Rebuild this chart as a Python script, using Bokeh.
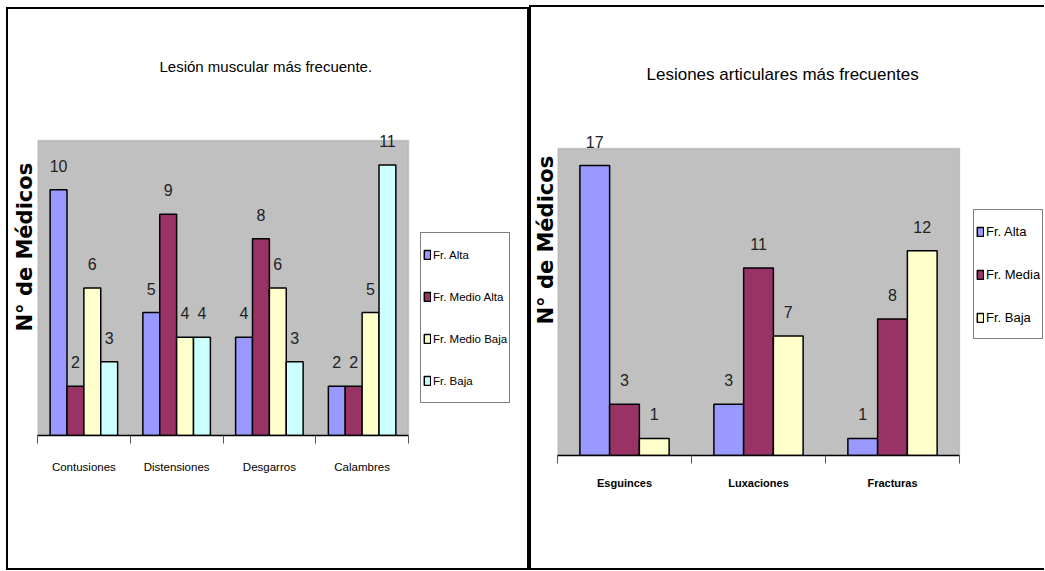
from bokeh.plotting import figure
from bokeh.models import (Range1d, FixedTicker, Legend, LegendItem, LabelSet,
                          ColumnDataSource, Title, BoxAnnotation)
from bokeh.core.properties import value
from bokeh.layouts import row, column
from bokeh.embed import file_html
from bokeh.resources import INLINE

# ---- muscular injuries ----
musc_cats = ["Contusiones", "Distensiones", "Desgarros", "Calambres"]
musc_names = ["Fr. Alta", "Fr. Medio Alta", "Fr. Medio Baja", "Fr. Baja"]
musc_alta = [10, 5, 4, 2]
musc_medio_alta = [2, 9, 8, 2]
musc_medio_baja = [6, 4, 6, 5]
musc_baja = [3, 4, 3, 11]

# ---- joint injuries ----
art_cats = ["Esguinces", "Luxaciones", "Fracturas"]
art_names = ["Fr. Alta", "Fr. Media", "Fr. Baja"]
art_alta = [17, 3, 1]
art_media = [3, 11, 8]
art_baja = [1, 7, 12]

C_ALTA = "#9999FF"
C_MALTA = "#993366"
C_MBAJA = "#FFFFCC"
C_BAJA = "#CCFFFF"

SANS = "Liberation Sans"
YTITLE = "N° de Médicos"
HEADROOM = 40  # px of frame kept above the grey area for value labels


def bar_chart(title, cats, names, series, colors, y_max, bar_w, *, width, height,
              border_left, border_top, border_bottom, plot_px,
              title_size, title_offset, title_gap, ytitle_offset, ytitle_standoff,
              legend_loc, legend_row_h, legend_spacing, legend_size,
              tick_style, tick_size, tick_standoff):
    ncat = len(cats)
    # the frame runs to the right edge so the legend can sit beside the bars,
    # and a little above the top so the tallest value label is not clipped;
    # the grey plot area covers only the category slots up to y_max
    frame_w = width - border_left
    x_end = ncat * frame_w / plot_px
    plot_h = height - border_top - border_bottom
    y_end = y_max * (plot_h + HEADROOM) / plot_h
    p = figure(width=width, height=height, output_backend="svg", toolbar_location=None,
               x_range=Range1d(0, x_end), y_range=Range1d(0, y_end),
               y_axis_location=None,
               min_border_left=border_left, min_border_right=0,
               min_border_top=border_top - HEADROOM, min_border_bottom=border_bottom)
    p.background_fill_color = "white"
    p.border_fill_color = "white"
    p.outline_line_color = None
    p.xgrid.visible = False
    p.ygrid.visible = False

    p.add_layout(BoxAnnotation(left=0, right=ncat, bottom=0, top=y_max,
                               fill_color="#C0C0C0", fill_alpha=1,
                               line_color="#808080", line_width=1.5,
                               level="underlay"))

    n = len(names)
    items = []
    for k, (name, vals, col) in enumerate(zip(names, series, colors)):
        off = (k - (n - 1) / 2) * bar_w
        src = ColumnDataSource(dict(
            x=[i + 0.5 + off for i in range(ncat)],
            top=vals,
            label=[str(v) for v in vals],
        ))
        r = p.vbar(x="x", top="top", bottom=0, width=bar_w, source=src,
                   fill_color=col, line_color="black", line_width=1.5)
        items.append(LegendItem(label=name, renderers=[r]))
        p.add_layout(LabelSet(x="x", y="top", text="label", source=src,
                              text_align="center", text_baseline="alphabetic",
                              y_offset=18, text_font=value(SANS),
                              text_font_size=value("16px"),
                              text_color=value("#222222")))

    # category labels centred in each slot, tick marks on the slot boundaries
    xa = p.xaxis[0]
    xa.bounds = (0, ncat)
    xa.ticker = FixedTicker(ticks=[i + 0.5 for i in range(ncat)],
                            minor_ticks=list(range(ncat + 1)))
    xa.major_label_overrides = {i + 0.5: c for i, c in enumerate(cats)}
    xa.major_tick_out = 0
    xa.major_tick_in = 0
    xa.minor_tick_out = 8
    xa.minor_tick_in = 0
    xa.minor_tick_line_color = "#555555"
    xa.axis_line_color = "black"
    xa.axis_line_width = 1.5
    xa.major_label_text_font = SANS
    xa.major_label_text_font_size = tick_size
    xa.major_label_text_font_style = tick_style
    xa.major_label_text_color = "black"
    xa.major_label_standoff = tick_standoff

    # empty spacer next to the frame, chart title above it
    p.add_layout(Title(text=" ", standoff=title_gap, text_font_size="1px"), "above")
    p.add_layout(Title(text=title, align="left", offset=title_offset,
                       vertical_align="bottom", standoff=0, text_font=SANS,
                       text_font_style="normal", text_font_size=title_size,
                       text_color="black"), "above")
    p.add_layout(Title(text=YTITLE, align="left", offset=ytitle_offset,
                       standoff=ytitle_standoff,
                       text_font="DejaVu Sans", text_font_style="bold",
                       text_font_size="21px", text_color="black"), "left")

    legend = Legend(items=items, location=legend_loc, padding=2, margin=0,
                    spacing=legend_spacing, glyph_width=8, glyph_height=11,
                    label_height=legend_row_h, label_standoff=2,
                    label_text_font=SANS, label_text_font_size=legend_size,
                    label_text_color="black",
                    border_line_color="black", border_line_width=1,
                    background_fill_color="white", background_fill_alpha=1)
    p.add_layout(legend, "center")
    return p


p1 = bar_chart("Lesión muscular más frecuente.", musc_cats, musc_names,
               [musc_alta, musc_medio_alta, musc_medio_baja, musc_baja],
               [C_ALTA, C_MALTA, C_MBAJA, C_BAJA], 12, 0.182,
               width=519, height=559, border_left=29, border_top=131,
               border_bottom=133, plot_px=371,
               title_size="15px", title_offset=122, title_gap=23,
               ytitle_offset=104, ytitle_standoff=2,
               legend_loc=(383, 32), legend_row_h=39,
               legend_spacing=3, legend_size="11.5px",
               tick_style="normal", tick_size="11.5px", tick_standoff=17)

p2 = bar_chart("Lesiones articulares más frecuentes", art_cats, art_names,
               [art_alta, art_media, art_baja],
               [C_ALTA, C_MALTA, C_MBAJA], 18, 0.222,
               width=513, height=561, border_left=26, border_top=141,
               border_bottom=113, plot_px=402,
               title_size="17px", title_offset=89, title_gap=22,
               ytitle_offset=131, ytitle_standoff=0,
               legend_loc=(416, 116), legend_row_h=38,
               legend_spacing=5, legend_size="13px",
               tick_style="bold", tick_size="11px", tick_standoff=13)

box1 = column(p1, styles={"border": "2px solid black"})
box1.margin = (7, 0, 0, 6)
box2 = column(p2, styles={"border-left": "2px solid black",
                          "border-top": "2px solid black",
                          "border-bottom": "2px solid black"})
box2.margin = (5, 0, 0, 0)

layout = row(box1, box2)
layout.margin = 0

open("out.html", "w").write(file_html(layout, INLINE))
